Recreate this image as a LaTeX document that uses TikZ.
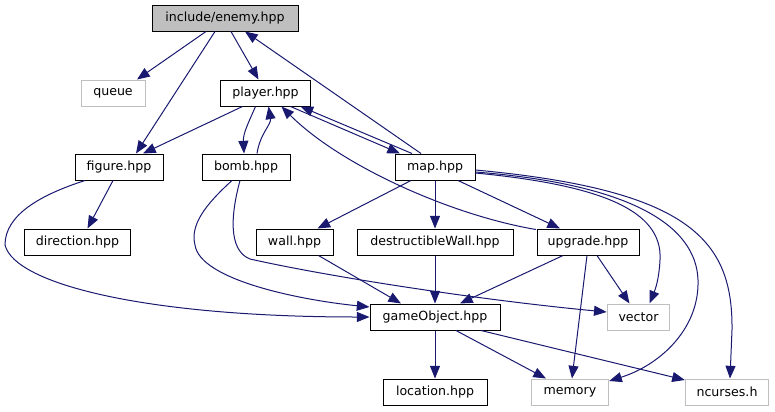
\documentclass[tikz,border=0pt]{standalone}
\usepackage{fontspec}
\setmainfont{DejaVu Sans}
\usepackage{tikz}
\usetikzlibrary{arrows.meta,calc}
\definecolor{edge}{HTML}{191970}
\definecolor{sysgray}{HTML}{BFBFBF}
\definecolor{rootfill}{HTML}{BFBFBF}

\begin{document}
\begin{tikzpicture}[x=0.75pt,y=-0.75pt,
  every node/.style={font=\fontsize{9.45}{11}\selectfont,inner sep=0pt,minimum height=19.5pt},
  file/.style={draw=black,line width=0.75pt,fill=white},
  root/.style={file,fill=rootfill},
  sys/.style={draw=sysgray,line width=0.75pt,fill=white},
  e/.style={-{Triangle[length=9.5pt,width=7.5pt]},edge,line width=0.75pt}]
  \useasboundingbox (0,0) rectangle (775,411);
  % headers
  \node[root,minimum width=109.5pt] (enemy) at (225,18) {include/enemy.hpp};
  \node[sys,minimum width=48pt] (queue) at (113,93) {queue};
  \node[file,minimum width=68pt] (player) at (265.5,93) {player.hpp};
  \node[file,minimum width=66pt] (figure) at (119,167) {figure.hpp};
  \node[file,minimum width=66pt] (bomb) at (246,167) {bomb.hpp};
  \node[file,minimum width=60pt] (map) at (435,167) {map.hpp};
  \node[file,minimum width=80pt] (direction) at (77.5,242) {direction.hpp};
  \node[file,minimum width=57.75pt] (wall) at (294.5,242) {wall.hpp};
  \node[file,minimum width=117pt] (dwall) at (435,242) {destructibleWall.hpp};
  \node[file,minimum width=76.5pt] (upgrade) at (588,242) {upgrade.hpp};
  \node[file,minimum width=97.5pt] (gobj) at (435,317) {gameObject.hpp};
  \node[sys,minimum width=47pt] (vector) at (638.5,317) {vector};
  \node[file,minimum width=78pt] (location) at (435,392) {location.hpp};
  \node[sys,minimum width=58pt] (memory) at (570,392) {memory};
  \node[sys,minimum width=62.5pt] (ncurses) at (727,392) {ncurses.h};
  % enemy
  \draw[e] ($(enemy.south)+(-19,0)$) -- ($(queue.north)+(24,0)$);
  \draw[e] ($(enemy.south)+(-10,0)$) -- ($(figure.north)+(17,0)$);
  \draw[e] ($(enemy.south)+(6,0)$) -- ($(player.north)+(-7,0)$);
  % player
  \draw[e] ($(player.south)+(-23,0)$) -- ($(figure.north)+(24,0)$);
  \draw[e] ($(player.south)+(-10,0)$) .. controls ($(player.south)+(-17,16)$) and ($(bomb.north)+(-3,-20)$) .. ($(bomb.north)+(-2,0)$);
  \draw[e] ($(bomb.north)+(11,0)$) .. controls ($(bomb.north)+(14,-20)$) and ($(player.south)+(6,18)$) .. ($(player.south)+(3,0)$);
  \draw[e] ($(player.south)+(25,0)$) -- ($(map.north)+(-35,0)$);
  \draw[e] ($(map.north)+(-23,0)$) -- ($(player.south)+(35,0)$);
  \draw[e] ($(map.north)+(-14,0)$) -- ($(enemy.south)+(20,0)$);
  \draw[e] ($(upgrade.north)+(-52,1)$) .. controls (450,215) and (340,165) .. ($(player.south)+(16,0)$);
  % figure
  \draw[e] ($(figure.south)+(-6,0)$) -- ($(direction.north)+(10,0)$);
  \draw[e] ($(figure.south)+(-34,0)$) .. controls (40,195) and (5,215) .. (5,245)
    .. controls (15,285) and (150,317) .. ($(gobj.west)+(0,0)$);
  % bomb
  \draw[e] ($(bomb.south)+(-14,0)$) .. controls (205,205) and (190,225) .. (195,245)
    .. controls (200,280) and (300,300) .. ($(gobj.west)+(0,-10)$);
  \draw[e] ($(bomb.south)+(-6,0)$) .. controls (228,225) and (232,252) .. (250,259)
    .. controls (330,277) and (480,300) .. ($(vector.west)+(0,-5)$);
  % map
  \draw[e] ($(map.south)+(-24,0)$) -- ($(wall.north)+(23,0)$);
  \draw[e] (map) -- (dwall);
  \draw[e] ($(map.south)+(23,0)$) -- ($(upgrade.north)+(-28,0)$);
  \draw[e] ($(map.east)+(0,6)$) .. controls (600,185) and (663,210) .. (660,260)
    .. controls (659,280) and (655,290) .. ($(vector.north)+(11,0)$);
  \draw[e] ($(map.east)+(0,5)$) .. controls (640,185) and (700,230) .. (698,285)
    .. controls (697,330) and (660,365) .. ($(memory.east)+(0,-11)$);
  \draw[e] ($(map.east)+(0,3)$) .. controls (690,190) and (733,240) .. (732,330)
    -- ($(ncurses.north)+(3,0)$);
  % walls, upgrade
  \draw[e] ($(wall.south)+(24,0)$) -- ($(gobj.north)+(-34,0)$);
  \draw[e] (dwall) -- (gobj);
  \draw[e] ($(upgrade.south)+(-25,0)$) -- ($(gobj.north)+(25,0)$);
  \draw[e] ($(upgrade.south)+(9,0)$) -- ($(vector.north)+(-9,0)$);
  \draw[e] ($(upgrade.south)+(-1,0)$) -- ($(memory.north)+(2,0)$);
  % gameObject
  \draw[e] (gobj) -- (location);
  \draw[e] ($(gobj.south)+(21,0)$) -- ($(memory.north)+(-24,0)$);
  \draw[e] ($(gobj.south)+(46,0)$) -- ($(ncurses.west)+(0,-12)$);
\end{tikzpicture}
\end{document}
